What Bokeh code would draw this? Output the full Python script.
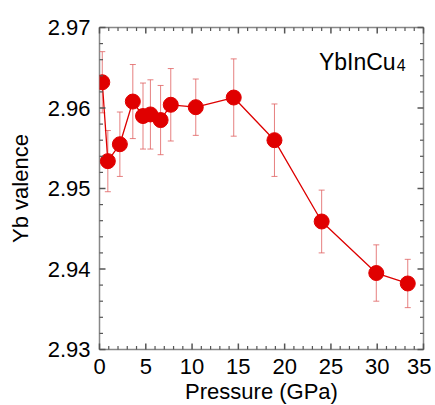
from bokeh.plotting import figure
from bokeh.models import Range1d, Whisker, ColumnDataSource, Label, SingleIntervalTicker
from bokeh.embed import file_html
from bokeh.resources import INLINE

pressure = [0.3, 0.9, 2.2, 3.6, 4.7, 5.5, 6.6, 7.7, 10.4, 14.5, 18.9, 24.0, 29.9, 33.3]
valence = [2.9632, 2.9534, 2.9555, 2.9608, 2.9590, 2.9592, 2.9585, 2.9604,
           2.9601, 2.9613, 2.9560, 2.9459, 2.9395, 2.9382]
err = [0.0038, 0.0038, 0.0040, 0.0046, 0.0041, 0.0043, 0.0043, 0.0045,
       0.0035, 0.0048, 0.0045, 0.0039, 0.0035, 0.0030]

x_major = [0, 5, 10, 15, 20, 25, 30, 35]
y_major = [2.93, 2.94, 2.95, 2.96, 2.97]
x_minor = [v for v in range(0, 36) if v % 5 != 0]
y_minor = [2.93 + 0.002 * i for i in range(21) if i % 5 != 0]

XMIN, XMAX, YMIN, YMAX = 0, 35, 2.93, 2.97
FW, FH = 324, 322

lower = [v - e for v, e in zip(valence, err)]
upper = [v + e for v, e in zip(valence, err)]
src = ColumnDataSource(dict(x=pressure, y=valence, lo=lower, hi=upper))

FONT = "Liberation Sans"
AX = "#888888"
TK = "#555555"

p = figure(frame_width=FW, frame_height=FH, output_backend="svg", toolbar_location=None,
           x_range=Range1d(XMIN, XMAX), y_range=Range1d(YMIN, YMAX),
           min_border_left=99, min_border_right=8, min_border_top=27, min_border_bottom=50,
           x_axis_label="Pressure (GPa)", y_axis_label="Yb valence")
p.grid.visible = False
p.outline_line_color = AX
p.outline_line_width = 1.5
p.background_fill_color = "white"
p.border_fill_color = "white"

for ax, tk in ((p.xaxis[0], SingleIntervalTicker(interval=5, num_minor_ticks=0)),
               (p.yaxis[0], SingleIntervalTicker(interval=0.01, num_minor_ticks=0))):
    ax.ticker = tk
    ax.axis_line_color = None
    ax.major_tick_line_color = None
    ax.minor_tick_line_color = None
    ax.major_tick_in = 0
    ax.major_tick_out = 0
    ax.minor_tick_in = 0
    ax.minor_tick_out = 0
    ax.major_label_text_font = FONT
    ax.major_label_text_font_size = "22px"
    ax.major_label_text_color = "black"
    ax.axis_label_text_font = FONT
    ax.axis_label_text_font_size = "22px"
    ax.axis_label_text_font_style = "normal"
    ax.axis_label_text_color = "black"
p.xaxis[0].major_label_standoff = 9
p.xaxis[0].axis_label_standoff = 2
p.yaxis[0].major_label_standoff = 9
p.yaxis[0].axis_label_standoff = 12

# inward tick marks on all four sides
tick_x0, tick_y0, tick_x1, tick_y1, tick_w = [], [], [], [], []
dx_maj, dx_min = 6 * (XMAX - XMIN) / FW, 3.5 * (XMAX - XMIN) / FW
dy_maj, dy_min = 6 * (YMAX - YMIN) / FH, 3.5 * (YMAX - YMIN) / FH
for xs, d, wdt in ((x_major, dy_maj, 1.5), (x_minor, dy_min, 1.2)):
    for xv in xs:
        tick_x0 += [xv, xv]; tick_x1 += [xv, xv]
        tick_y0 += [YMIN, YMAX]; tick_y1 += [YMIN + d, YMAX - d]
        tick_w += [wdt, wdt]
for ys, d, wdt in ((y_major, dx_maj, 1.5), (y_minor, dx_min, 1.2)):
    for yv in ys:
        tick_y0 += [yv, yv]; tick_y1 += [yv, yv]
        tick_x0 += [XMIN, XMAX]; tick_x1 += [XMIN + d, XMAX - d]
        tick_w += [wdt, wdt]
tick_src = ColumnDataSource(dict(x0=tick_x0, y0=tick_y0, x1=tick_x1, y1=tick_y1, w=tick_w))
p.segment(x0="x0", y0="y0", x1="x1", y1="y1", line_width="w", source=tick_src,
          line_color=TK, level="overlay")

w = Whisker(source=src, base="x", lower="lo", upper="hi",
            line_color="#e06060", line_alpha=0.8, line_width=1)
w.upper_head.size = 6
w.lower_head.size = 6
w.upper_head.line_color = "#e06060"
w.lower_head.line_color = "#e06060"
w.upper_head.line_alpha = 0.8
w.lower_head.line_alpha = 0.8
p.add_layout(w)

p.line("x", "y", source=src, line_color="#dd0000", line_width=1.3)
p.scatter("x", "y", source=src, size=15, fill_color="#e00000", line_color="#e00000")

p.add_layout(Label(x=23.7, y=2.9657, text="YbInCu", text_font=FONT,
                   text_font_size="23px", text_color="black", text_baseline="alphabetic"))
p.add_layout(Label(x=32.1, y=2.96535, text="4", text_font=FONT,
                   text_font_size="16px", text_color="black", text_baseline="alphabetic"))

open("out.html", "w").write(file_html(p, INLINE))
